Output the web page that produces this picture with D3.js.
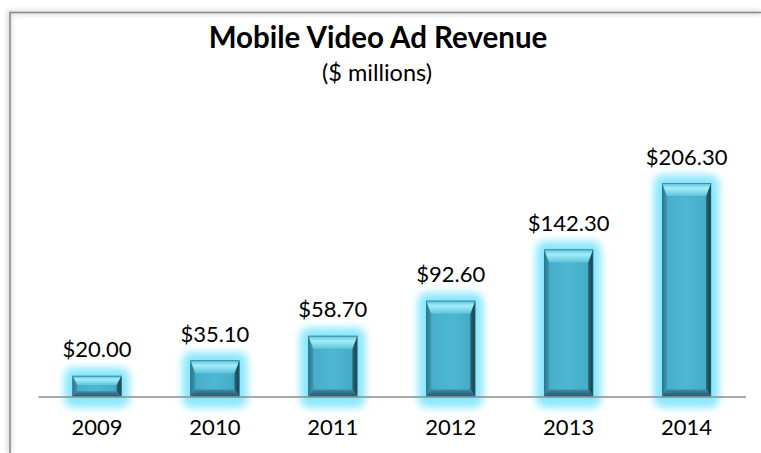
<!DOCTYPE html>
<html>
<head>
<meta charset="utf-8">
<script src="https://cdn.jsdelivr.net/npm/d3@7/dist/d3.min.js"></script>
<style>
  html, body { margin: 0; padding: 0; background: #ffffff; }
  svg { display: block; }
  text { font-family: "Lato", "Open Sans", sans-serif; fill: #000; }
</style>
</head>
<body>
<svg id="chart" width="761" height="453"></svg>
<script>
// Revenue by year, $ millions
const years = ["2009", "2010", "2011", "2012", "2013", "2014"];
const revenue = [20.00, 35.10, 58.70, 92.60, 142.30, 206.30];
const titleText = "Mobile Video Ad Revenue";
const subtitleText = "($ millions)";

const W = 761, H = 453;
const svg = d3.select("#chart");
const defs = svg.append("defs");

// soft shadow for the frame
defs.append("filter").attr("id", "frameShadow")
  .attr("x", "-5%").attr("y", "-5%").attr("width", "110%").attr("height", "110%")
  .append("feGaussianBlur").attr("stdDeviation", 2.5);

// cyan glow around each bar
defs.append("filter").attr("id", "glow")
  .attr("x", "-50%").attr("y", "-50%").attr("width", "200%").attr("height", "200%")
  .append("feGaussianBlur").attr("stdDeviation", 5);

// gradients for the bevelled faces
function linGrad(id, x1, y1, x2, y2, stops) {
  const g = defs.append("linearGradient").attr("id", id)
    .attr("x1", x1).attr("y1", y1).attr("x2", x2).attr("y2", y2);
  stops.forEach(s => g.append("stop").attr("offset", s[0]).attr("stop-color", s[1]));
}
linGrad("faceGrad", 0, 0, 1, 0, [[0, "#46abc7"], [0.5, "#4db8d4"], [1, "#44a7c2"]]);
linGrad("topGrad", 0, 0, 0, 1, [[0, "#58bed8"], [0.4, "#a4eef9"], [1, "#5fc3dc"]]);
linGrad("leftGrad", 0, 0, 1, 0, [[0, "#2c7890"], [1, "#3d98b1"]]);
linGrad("rightGrad", 0, 0, 1, 0, [[0, "#2c6a7b"], [1, "#143a45"]]);
linGrad("bottomGrad", 0, 0, 0, 1, [[0, "#3a8ea5"], [1, "#22566a"]]);

// frame (top and left edges visible)
svg.append("path")
  .attr("d", `M9.5,${H} V12.5 H${W}`)
  .attr("fill", "none").attr("stroke", "#c4c4c4").attr("stroke-width", 3)
  .attr("filter", "url(#frameShadow)");
svg.append("path")
  .attr("d", `M10,${H} V12.5 H${W}`)
  .attr("fill", "none").attr("stroke", "#8a8a8a").attr("stroke-width", 1.6);

// scales
const x = d3.scaleBand().domain(years).range([38, 745.5])
  .paddingInner(0.584).paddingOuter(0.292);
const y = d3.scaleLinear().domain([0, 206.3]).range([396.5, 183]);

const data = years.map((yr, i) => ({ year: yr, value: revenue[i] }));

// glow layer (two passes for a fuller halo)
const glow = svg.append("g");
[0.7, 1].forEach(op => {
  glow.append("g").selectAll("rect").data(data).join("rect")
    .attr("x", d => x(d.year) - 6)
    .attr("y", d => y(d.value) - 6)
    .attr("width", x.bandwidth() + 12)
    .attr("height", d => y(0) - y(d.value) + 15)
    .attr("rx", 5)
    .attr("fill", "#86e6fc")
    .attr("opacity", op)
    .attr("filter", "url(#glow)");
});

// bevelled bars
const bars = svg.append("g").selectAll("g").data(data).join("g");
bars.each(function (d) {
  const g = d3.select(this);
  const x0 = x(d.year), x1 = x0 + x.bandwidth();
  const y0 = y(d.value), y1 = y(0);
  const h = y1 - y0;
  const bt = Math.min(13, h * 0.45);   // top bevel depth
  const bb = Math.min(7, h * 0.25);    // bottom bevel depth
  const bs = 5;                        // side bevel width
  const pts = a => a.map(p => p.join(",")).join(" ");
  g.append("rect").attr("x", x0).attr("y", y0).attr("width", x1 - x0).attr("height", h)
    .attr("fill", "url(#faceGrad)");
  g.append("polygon").attr("points", pts([[x0, y0], [x0 + bs, y0 + bt], [x0 + bs, y1 - bb], [x0, y1]]))
    .attr("fill", "url(#leftGrad)");
  g.append("polygon").attr("points", pts([[x1, y0], [x1 - bs, y0 + bt], [x1 - bs, y1 - bb], [x1, y1]]))
    .attr("fill", "url(#rightGrad)");
  g.append("polygon").attr("points", pts([[x0, y1], [x0 + bs, y1 - bb], [x1 - bs, y1 - bb], [x1, y1]]))
    .attr("fill", "url(#bottomGrad)");
  g.append("polygon").attr("points", pts([[x0, y0], [x1, y0], [x1 - bs, y0 + bt], [x0 + bs, y0 + bt]]))
    .attr("fill", "url(#topGrad)");
  g.append("rect").attr("x", x0 + 0.5).attr("y", y0 + 0.5).attr("width", x1 - x0 - 1).attr("height", h - 1)
    .attr("fill", "none").attr("stroke", "#2e6e80").attr("stroke-width", 1).attr("opacity", 0.6);
});

// category axis
const axis = svg.append("g").attr("transform", `translate(0,${y(0)})`)
  .call(d3.axisBottom(x).tickSize(0).tickPadding(0));
axis.select(".domain").attr("stroke", "#8c8c8c").attr("stroke-width", 1.6);
axis.selectAll(".tick text")
  .attr("y", 38.5).attr("dy", null)
  .style("font-family", "Lato, 'Open Sans', sans-serif")
  .style("font-size", "22px").attr("fill", "#000");

// value labels
svg.append("g").selectAll("text").data(data).join("text")
  .attr("x", d => x(d.year) + x.bandwidth() / 2)
  .attr("y", d => y(d.value) - 18.5)
  .attr("text-anchor", "middle")
  .style("font-size", "22px")
  .text(d => "$" + d3.format(".2f")(d.value));

// titles
svg.append("text").attr("x", 378).attr("y", 48).attr("text-anchor", "middle")
  .style("font-size", "29.5px").style("font-weight", "bold").text(titleText);
svg.append("text").attr("x", 377).attr("y", 81).attr("text-anchor", "middle")
  .style("font-size", "23.5px").text(subtitleText);
</script>
</body>
</html>
